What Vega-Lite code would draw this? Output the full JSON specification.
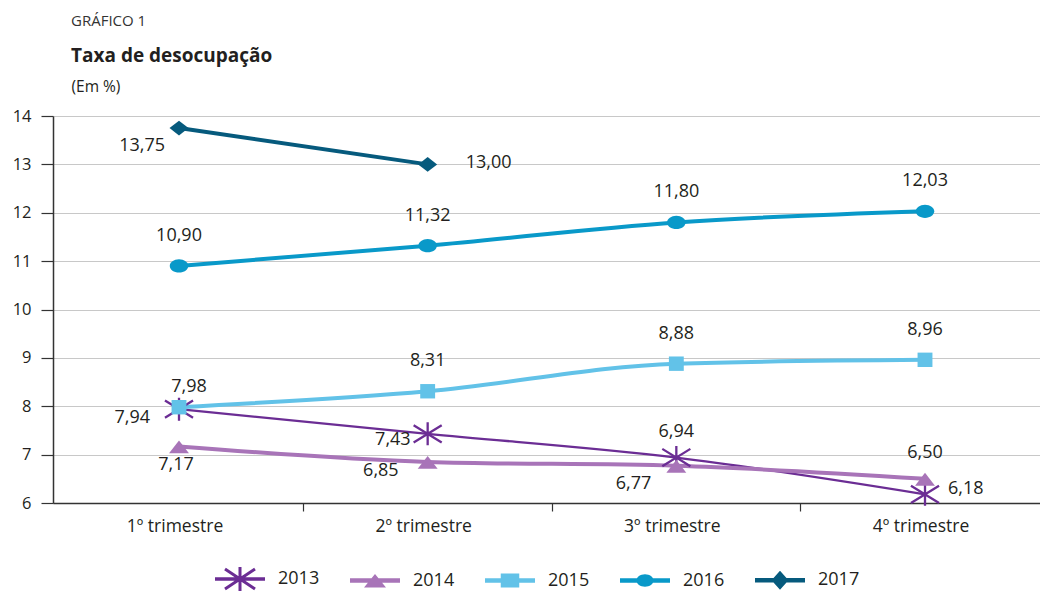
{
  "$schema": "https://vega.github.io/schema/vega-lite/v6.json",
  "width": 987,
  "height": 387,
  "autosize": {"type": "none"},
  "padding": {"left": 53, "top": 116, "right": 0, "bottom": 88},
  "background": "white",
  "config": {
    "locale": {"number": {"decimal": ",", "thousands": ".", "grouping": [3], "currency": ["R$", ""]}},
    "font": "Open Sans",
    "view": {"stroke": null}
  },
  "title": {
    "text": "GRÁFICO 1",
    "subtitle": "Taxa de desocupação",
    "anchor": "start",
    "frame": "group",
    "dx": 18,
    "offset": 13,
    "font": "Open Sans",
    "fontSize": 15,
    "fontWeight": "normal",
    "color": "#333333",
    "subtitleFont": "Open Sans",
    "subtitleFontSize": 19,
    "subtitleFontWeight": "bold",
    "subtitleColor": "#231f20",
    "subtitlePadding": 18
  },
  "data": {
    "values": [
      {"ano": "2013", "tri": "1º trimestre", "taxa": 7.94},
      {"ano": "2013", "tri": "2º trimestre", "taxa": 7.43},
      {"ano": "2013", "tri": "3º trimestre", "taxa": 6.94},
      {"ano": "2013", "tri": "4º trimestre", "taxa": 6.18},
      {"ano": "2014", "tri": "1º trimestre", "taxa": 7.17},
      {"ano": "2014", "tri": "2º trimestre", "taxa": 6.85},
      {"ano": "2014", "tri": "3º trimestre", "taxa": 6.77},
      {"ano": "2014", "tri": "4º trimestre", "taxa": 6.50},
      {"ano": "2015", "tri": "1º trimestre", "taxa": 7.98},
      {"ano": "2015", "tri": "2º trimestre", "taxa": 8.31},
      {"ano": "2015", "tri": "3º trimestre", "taxa": 8.88},
      {"ano": "2015", "tri": "4º trimestre", "taxa": 8.96},
      {"ano": "2016", "tri": "1º trimestre", "taxa": 10.90},
      {"ano": "2016", "tri": "2º trimestre", "taxa": 11.32},
      {"ano": "2016", "tri": "3º trimestre", "taxa": 11.80},
      {"ano": "2016", "tri": "4º trimestre", "taxa": 12.03},
      {"ano": "2017", "tri": "1º trimestre", "taxa": 13.75},
      {"ano": "2017", "tri": "2º trimestre", "taxa": 13.00}
    ]
  },
  "encoding": {
    "x": {
      "field": "tri", "type": "nominal", "bandPosition": 0.5,
      "sort": ["1º trimestre", "2º trimestre", "3º trimestre", "4º trimestre"],
      "scale": {"type": "band", "range": [0, 998], "paddingInner": 0, "paddingOuter": 0.0067},
      "axis": null
    },
    "y": {
      "field": "taxa", "type": "quantitative",
      "scale": {"domain": [6, 14], "nice": false, "zero": false},
      "axis": {
        "title": "(Em %)", "titleAngle": 0, "titleAlign": "left", "titleBaseline": "middle",
        "titleX": 18, "titleY": -30, "titleFont": "Open Sans", "titleFontSize": 15.5,
        "titleFontWeight": "normal", "titleColor": "#231f20",
        "values": [6, 7, 8, 9, 10, 11, 12, 13, 14], "format": "d",
        "grid": true, "gridColor": "#c8c8c8", "gridWidth": 1.2,
        "tickSize": 12, "tickColor": "#333333", "tickWidth": 1.2,
        "domainColor": "#333333", "domainWidth": 1.5,
        "labelFont": "Open Sans", "labelFontSize": 16.5, "labelColor": "#231f20", "labelPadding": 10
      }
    }
  },
  "resolve": {"axis": {"x": "independent"}},
  "layer": [
    {
      "mark": {"type": "point", "filled": true, "opacity": 0.001, "size": 4},
      "encoding": {
        "color": {
          "field": "ano", "type": "nominal",
          "scale": {"domain": ["2013", "2014", "2015", "2016", "2017"], "range": ["#6b2d94", "#a874b8", "#62c2e8", "#0999c9", "#065a7d"]},
          "legend": {
            "title": null, "orient": "none", "legendX": 162, "legendY": 438, "direction": "horizontal",
            "padding": 0, "symbolSize": 2500, "symbolStrokeWidth": 0, "symbolOpacity": 1,
            "labelOffset": 13, "columnPadding": 30,
            "labelFont": "Open Sans", "labelFontSize": 18, "labelColor": "#231f20"
          }
        },
        "shape": {
          "field": "ano", "type": "nominal",
          "scale": {
            "domain": ["2013", "2014", "2015", "2016", "2017"],
            "range": [
              "M-1,-0.07H1V0.07H-1ZM-0.06,-0.48H0.06V0.48H-0.06ZM-0.567,-0.45L0.633,0.35L0.567,0.45L-0.633,-0.35ZM-0.633,0.35L0.567,-0.45L0.633,-0.35L-0.567,0.45Z",
              "M-1,-0.09H1V0.09H-1ZM0,-0.26L0.44,0.28L-0.44,0.28Z",
              "M-1,-0.09H1V0.09H-1ZM-0.37,-0.28H0.37V0.28H-0.37Z",
              "M-1,-0.09H1V0.09H-1ZM-0.34,0A0.34,0.25 0 1,1 0.34,0A0.34,0.25 0 1,1 -0.34,0Z",
              "M-1,-0.09H1V0.09H-1ZM0,-0.38L0.34,0L0,0.38L-0.34,0Z"
            ]
          },
          "legend": {
            "title": null, "orient": "none", "legendX": 162, "legendY": 438, "direction": "horizontal",
            "padding": 0, "symbolSize": 2500, "symbolStrokeWidth": 0, "symbolOpacity": 1,
            "labelOffset": 13, "columnPadding": 30,
            "labelFont": "Open Sans", "labelFontSize": 18, "labelColor": "#231f20"
          }
        }
      }
    },
    {
      "mark": {"type": "line", "interpolate": "monotone"},
      "encoding": {
        "x": {
          "field": "tri", "type": "nominal", "bandPosition": 0.5,
          "sort": ["1º trimestre", "2º trimestre", "3º trimestre", "4º trimestre"],
          "scale": {"type": "band", "range": [0, 998], "paddingInner": 0, "paddingOuter": 0.0067},
          "axis": {
            "orient": "bottom", "title": null, "ticks": false, "grid": false,
            "domain": true, "domainColor": "#333333", "domainWidth": 1.5,
            "labelFont": "Open Sans", "labelFontSize": 17.5, "labelColor": "#231f20",
            "labelPadding": 14, "labelAngle": 0, "labelOffset": -4
          }
        },
        "color": {"field": "ano", "type": "nominal", "legend": null},
        "strokeWidth": {"condition": {"test": "datum.ano === '2013'", "value": 2.3}, "value": 4}
      }
    },
    {
      "transform": [{"filter": "datum.ano === '2013'"}],
      "mark": {
        "type": "point", "filled": false, "opacity": 1, "size": 576, "strokeWidth": 2.3,
        "shape": "M0,-0.96V0.96M-1.17,-0.72L1.17,0.72M-1.17,0.72L1.17,-0.72"
      },
      "encoding": {"color": {"field": "ano", "type": "nominal", "legend": null}}
    },
    {
      "transform": [{"filter": "datum.ano === '2014'"}],
      "mark": {"type": "point", "filled": true, "opacity": 1, "size": 576, "strokeWidth": 0, "shape": "M0,-0.5L0.83,0.58L-0.83,0.58Z"},
      "encoding": {
        "x": {
          "field": "tri", "type": "nominal", "bandPosition": 0.5,
          "sort": ["1º trimestre", "2º trimestre", "3º trimestre", "4º trimestre"],
          "scale": {"type": "band", "range": [0, 998], "paddingInner": 0, "paddingOuter": 0.0067},
          "axis": {
            "orient": "bottom", "title": null, "labels": false, "domain": false, "grid": false,
            "ticks": true, "tickSize": 8, "tickColor": "#333333", "tickWidth": 1.2, "bandPosition": 0,
            "values": ["2º trimestre", "3º trimestre", "4º trimestre"]
          }
        },
        "color": {"field": "ano", "type": "nominal", "legend": null}
      }
    },
    {
      "transform": [{"filter": "datum.ano === '2015'"}],
      "mark": {"type": "point", "filled": true, "opacity": 1, "size": 576, "strokeWidth": 0, "shape": "M-0.62,-0.6H0.62V0.6H-0.62Z"},
      "encoding": {"color": {"field": "ano", "type": "nominal", "legend": null}}
    },
    {
      "transform": [{"filter": "datum.ano === '2016'"}],
      "mark": {"type": "point", "filled": true, "opacity": 1, "size": 576, "strokeWidth": 0, "shape": "M-0.77,0A0.77,0.55 0 1,1 0.77,0A0.77,0.55 0 1,1 -0.77,0Z"},
      "encoding": {"color": {"field": "ano", "type": "nominal", "legend": null}}
    },
    {
      "transform": [{"filter": "datum.ano === '2017'"}],
      "mark": {"type": "point", "filled": true, "opacity": 1, "size": 576, "strokeWidth": 0, "shape": "M0,-0.62L0.79,0L0,0.62L-0.79,0Z"},
      "encoding": {"color": {"field": "ano", "type": "nominal", "legend": null}}
    },
    {
      "transform": [{"filter": "indexof(['20161','20162','20163','20164','20152','20153','20154'], datum.ano + substring(datum.tri, 0, 1)) >= 0"}],
      "mark": {"type": "text", "font": "Open Sans", "fontSize": 18, "color": "#231f20", "align": "center", "baseline": "middle", "dy": -30},
      "encoding": {"text": {"field": "taxa", "type": "quantitative", "format": ".2f"}}
    },
    {
      "transform": [{"filter": "indexof(['20133','20144'], datum.ano + substring(datum.tri, 0, 1)) >= 0"}],
      "mark": {"type": "text", "font": "Open Sans", "fontSize": 18, "color": "#231f20", "align": "center", "baseline": "middle", "dy": -26},
      "encoding": {"text": {"field": "taxa", "type": "quantitative", "format": ".2f"}}
    },
    {
      "transform": [{"filter": "indexof(['20151'], datum.ano + substring(datum.tri, 0, 1)) >= 0"}],
      "mark": {"type": "text", "font": "Open Sans", "fontSize": 18, "color": "#231f20", "align": "center", "baseline": "middle", "dx": 10, "dy": -20},
      "encoding": {"text": {"field": "taxa", "type": "quantitative", "format": ".2f"}}
    },
    {
      "transform": [{"filter": "indexof(['20141'], datum.ano + substring(datum.tri, 0, 1)) >= 0"}],
      "mark": {"type": "text", "font": "Open Sans", "fontSize": 18, "color": "#231f20", "align": "center", "baseline": "middle", "dx": -3, "dy": 19},
      "encoding": {"text": {"field": "taxa", "type": "quantitative", "format": ".2f"}}
    },
    {
      "transform": [{"filter": "indexof(['20131','20142'], datum.ano + substring(datum.tri, 0, 1)) >= 0"}],
      "mark": {"type": "text", "font": "Open Sans", "fontSize": 18, "color": "#231f20", "align": "right", "baseline": "middle", "dx": -29, "dy": 9},
      "encoding": {"text": {"field": "taxa", "type": "quantitative", "format": ".2f"}}
    },
    {
      "transform": [{"filter": "indexof(['20132'], datum.ano + substring(datum.tri, 0, 1)) >= 0"}],
      "mark": {"type": "text", "font": "Open Sans", "fontSize": 18, "color": "#231f20", "align": "right", "baseline": "middle", "dx": -17, "dy": 6},
      "encoding": {"text": {"field": "taxa", "type": "quantitative", "format": ".2f"}}
    },
    {
      "transform": [{"filter": "indexof(['20143'], datum.ano + substring(datum.tri, 0, 1)) >= 0"}],
      "mark": {"type": "text", "font": "Open Sans", "fontSize": 18, "color": "#231f20", "align": "right", "baseline": "middle", "dx": -25, "dy": 18},
      "encoding": {"text": {"field": "taxa", "type": "quantitative", "format": ".2f"}}
    },
    {
      "transform": [{"filter": "indexof(['20171'], datum.ano + substring(datum.tri, 0, 1)) >= 0"}],
      "mark": {"type": "text", "font": "Open Sans", "fontSize": 18, "color": "#231f20", "align": "right", "baseline": "middle", "dx": -14, "dy": 18},
      "encoding": {"text": {"field": "taxa", "type": "quantitative", "format": ".2f"}}
    },
    {
      "transform": [{"filter": "indexof(['20172'], datum.ano + substring(datum.tri, 0, 1)) >= 0"}],
      "mark": {"type": "text", "font": "Open Sans", "fontSize": 18, "color": "#231f20", "align": "left", "baseline": "middle", "dx": 38, "dy": -1},
      "encoding": {"text": {"field": "taxa", "type": "quantitative", "format": ".2f"}}
    },
    {
      "transform": [{"filter": "indexof(['20134'], datum.ano + substring(datum.tri, 0, 1)) >= 0"}],
      "mark": {"type": "text", "font": "Open Sans", "fontSize": 18, "color": "#231f20", "align": "left", "baseline": "middle", "dx": 23, "dy": -5},
      "encoding": {"text": {"field": "taxa", "type": "quantitative", "format": ".2f"}}
    }
  ]
}
